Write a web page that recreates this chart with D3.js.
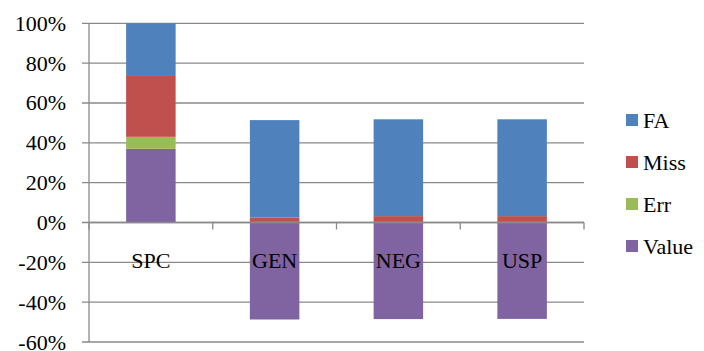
<!DOCTYPE html>
<html><head><meta charset="UTF-8"><script src="https://d3js.org/d3.v7.min.js"></script></head>
<body style="margin:0">
<svg id="chart" width="704" height="351"></svg>
<script>
    // Data (percent)
    const categories = ["SPC", "GEN", "NEG", "USP"];
    const valueData = [37, -48.7, -48.5, -48.4];
    const errData = [6, 0.3, 0.3, 0.3];
    const missData = [31, 2.2, 2.9, 2.9];
    const faData = [26, 48.9, 48.6, 48.6];
    const yTicks = [-60, -40, -20, 0, 20, 40, 60, 80, 100];

    const seriesKeys = ["Value", "Err", "Miss", "FA"];
    const legendKeys = ["FA", "Miss", "Err", "Value"];
    const colors = { FA: "#4F81BD", Miss: "#C0504D", Err: "#9BBB59", Value: "#8064A2" };
    const serif = "'Times New Roman', 'Liberation Serif', Tinos, serif";

    const rows = categories.map((c, i) => ({
        cat: c, Value: valueData[i], Err: errData[i], Miss: missData[i], FA: faData[i]
    }));

    const plotLeft = 89, plotRight = 584, plotTop = 23.3, plotBottom = 342;

    const svg = d3.select("#chart").style("font-family", serif);

    const x = d3.scaleBand().domain(categories).range([plotLeft, plotRight]).paddingInner(0.6).paddingOuter(0.3);
    const xb = d3.scaleBand().domain(categories).range([plotLeft, plotRight]);
    const y = d3.scaleLinear().domain([-60, 100]).range([plotBottom, plotTop]);

    // gridlines
    svg.append("g").selectAll("line").data(yTicks).enter().append("line")
        .attr("x1", plotLeft - 7).attr("x2", plotRight)
        .attr("y1", d => y(d)).attr("y2", d => y(d))
        .attr("stroke", "#8a8a8a").attr("stroke-width", 1.3);

    // vertical axis
    svg.append("line").attr("x1", plotLeft).attr("x2", plotLeft)
        .attr("y1", y(100)).attr("y2", y(-60))
        .attr("stroke", "#8a8a8a").attr("stroke-width", 1.3);

    // y labels
    svg.append("g").selectAll("text").data(yTicks).enter().append("text")
        .attr("x", 66).attr("y", d => y(d) + 7.5)
        .attr("text-anchor", "end").attr("font-size", 22).attr("fill", "#000")
        .style("font-family", serif)
        .text(d => d + "%");

    // stacked bars
    const stacked = d3.stack().keys(seriesKeys).offset(d3.stackOffsetDiverging)(rows);

    svg.append("g").selectAll("g").data(stacked).enter().append("g")
        .attr("fill", d => colors[d.key])
        .selectAll("rect").data(d => d).enter().append("rect")
        .attr("x", d => x(d.data.cat))
        .attr("width", x.bandwidth())
        .attr("y", d => y(Math.max(d[0], d[1])))
        .attr("height", d => Math.abs(y(d[0]) - y(d[1])));

    // zero axis with ticks at band edges
    svg.append("line").attr("x1", plotLeft).attr("x2", plotRight)
        .attr("y1", y(0)).attr("y2", y(0))
        .attr("stroke", "#8a8a8a").attr("stroke-width", 1.3);
    const edges = categories.map(c => xb(c)).concat([plotRight]);
    svg.append("g").selectAll("line").data(edges).enter().append("line")
        .attr("x1", d => d).attr("x2", d => d)
        .attr("y1", y(0)).attr("y2", y(0) + 7)
        .attr("stroke", "#8a8a8a").attr("stroke-width", 1.3);

    // category labels
    svg.append("g").selectAll("text").data(categories).enter().append("text")
        .attr("x", d => x(d) + x.bandwidth() / 2).attr("y", 268)
        .attr("text-anchor", "middle").attr("font-size", 22).attr("fill", "#000")
        .style("font-family", serif)
        .text(d => d);

    // legend
    const legend = svg.append("g").selectAll("g").data(legendKeys).enter().append("g")
        .attr("transform", (d, i) => `translate(626, ${114 + i * 42})`);
    legend.append("rect").attr("width", 12).attr("height", 12).attr("fill", d => colors[d]);
    legend.append("text").attr("x", 17).attr("y", 14)
        .attr("font-size", 22).attr("fill", "#000")
        .style("font-family", serif)
        .text(d => d);
</script>
</body>
</html>
